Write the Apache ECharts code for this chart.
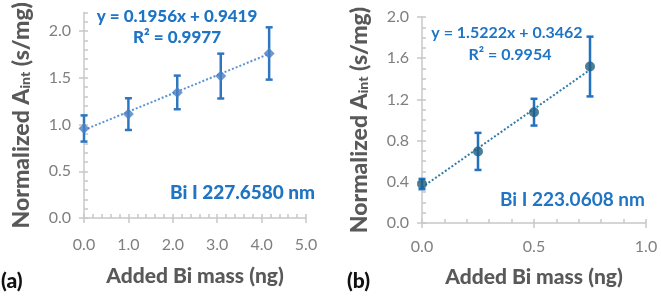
<!DOCTYPE html>
<html>
<head>
<meta charset="utf-8">
<script src="https://cdn.jsdelivr.net/npm/echarts@6/dist/echarts.min.js"></script>
<style>
  html, body { margin: 0; padding: 0; background: #fff; }
  #main { width: 661px; height: 298px; }
</style>
</head>
<body>
<div id="main"></div>
<script>
// panel (a) - Bi I 227.6580 nm
var massA = [0, 1.0, 2.1, 3.08, 4.17];
var signalA = [0.958, 1.112, 1.344, 1.519, 1.761];
var errA = [0.14, 0.17, 0.18, 0.24, 0.28];
var trendA = [[0, 0.942], [4.17, 1.757]];

// panel (b) - Bi I 223.0608 nm
var massB = [0, 0.25, 0.5, 0.75];
var signalB = [0.378, 0.695, 1.076, 1.519];
var errB = [0.05, 0.18, 0.13, 0.29];
var trendB = [[0, 0.346], [0.755, 1.495]];

var yTicksA = [0, 0.5, 1.0, 1.5, 2.0];
var xTicksA = [0, 1, 2, 3, 4, 5];
var yTicksB = [0, 0.4, 0.8, 1.2, 1.6, 2.0];
var xTicksB = [0, 0.5, 1.0];

var FONT = 'Lato, "Open Sans", sans-serif';
var GRID_LINE = '#c8c8c8';
var LABEL_GREY = '#7f7f7f';
var TITLE_GREY = '#595959';
var BLUE_TXT = '#1f74c4';

function pts(xs, ys) {
	return xs.map(function (x, i) { return [x, ys[i]]; });
}
function bars(xs, ys, es) {
	return xs.map(function (x, i) { return [x, ys[i] - es[i], ys[i] + es[i]]; });
}
function errBar(color) {
	return function (params, api) {
		var x = api.value(0);
		var lo = api.coord([x, api.value(1)]);
		var hi = api.coord([x, api.value(2)]);
		var cap = 3.5;
		var st = { stroke: color, lineWidth: 2.5 };
		return {
			type: 'group',
			children: [
				{ type: 'line', shape: { x1: lo[0], y1: lo[1], x2: hi[0], y2: hi[1] }, style: st },
				{ type: 'line', shape: { x1: hi[0] - cap, y1: hi[1], x2: hi[0] + cap, y2: hi[1] }, style: st },
				{ type: 'line', shape: { x1: lo[0] - cap, y1: lo[1], x2: lo[0] + cap, y2: lo[1] }, style: st }
			]
		};
	};
}

var fmt1 = function (v) { return (+v).toFixed(1); };
var yName = 'Normalized A{sub|int} (s/mg)';
function nameStyle(size) {
	return {
		color: TITLE_GREY, fontFamily: FONT, fontSize: size, fontWeight: 900,
		rich: {
			sub: { fontFamily: FONT, fontSize: 14, fontWeight: 900, color: TITLE_GREY, padding: [8, 0, 0, 0] }
		}
	};
}

// minor axis (line + inside ticks) and major axis (outside ticks + labels) stacked
function minorAxis(grid, min, max, step) {
	return {
		gridIndex: grid, type: 'value', min: min, max: max, interval: step,
		axisLine: { show: true, lineStyle: { color: GRID_LINE, width: 1.5 } },
		axisTick: { show: true, inside: true, length: 4, lineStyle: { color: GRID_LINE, width: 1.5 } },
		axisLabel: { show: false }, splitLine: { show: false }
	};
}
function majorAxis(grid, min, max, ticks, margin) {
	return {
		gridIndex: grid, type: 'value', min: min, max: max,
		axisLine: { show: false },
		axisTick: { show: true, inside: false, length: 5, customValues: ticks, lineStyle: { color: GRID_LINE, width: 1.5 } },
		axisLabel: { show: true, customValues: ticks, formatter: fmt1, color: LABEL_GREY, fontFamily: FONT, fontSize: 16, margin: margin },
		splitLine: { show: false }
	};
}

var xA1 = minorAxis(0, 0, 5, 0.2); xA1.position = 'bottom';
var xA2 = majorAxis(0, 0, 5, xTicksA, 19); xA2.position = 'bottom';
xA2.name = 'Added Bi mass (ng)'; xA2.nameLocation = 'middle'; xA2.nameGap = 48; xA2.nameTextStyle = nameStyle(21);
var xB1 = minorAxis(1, 0, 1, 0.1); xB1.position = 'bottom';
var xB2 = majorAxis(1, 0, 1, xTicksB, 16); xB2.position = 'bottom';
xB2.name = 'Added Bi mass (ng)'; xB2.nameLocation = 'middle'; xB2.nameGap = 44; xB2.nameTextStyle = nameStyle(21);

var yA1 = minorAxis(0, 0, 2.2, 0.1); yA1.position = 'left';
var yA2 = majorAxis(0, 0, 2.2, yTicksA, 13); yA2.position = 'left';
yA2.name = yName; yA2.nameLocation = 'middle'; yA2.nameGap = 51; yA2.nameTextStyle = nameStyle(23);
var yB1 = minorAxis(1, 0, 2.0, 0.1); yB1.position = 'left';
var yB2 = majorAxis(1, 0, 2.0, yTicksB, 13); yB2.position = 'left';
yB2.name = yName; yB2.nameLocation = 'middle'; yB2.nameGap = 51; yB2.nameTextStyle = nameStyle(23);

var option = {
	animation: false,
	backgroundColor: '#ffffff',
	textStyle: { fontFamily: FONT },
	grid: [
		{ left: 84, top: 10, width: 222, height: 208 },
		{ left: 422, top: 17, width: 224, height: 206 }
	],
	xAxis: [xA1, xA2, xB1, xB2],
	yAxis: [yA1, yA2, yB1, yB2],
	graphic: [
		{ type: 'text', left: 1, top: 271, style: { text: '(a)', fill: '#111', font: '900 21px ' + FONT } },
		{ type: 'text', left: 347, top: 271, style: { text: '(b)', fill: '#111', font: '900 21px ' + FONT } },
		{ type: 'text', x: 177, y: 17, style: { text: 'y = 0.1956x + 0.9419', fill: BLUE_TXT, font: '900 17px ' + FONT, align: 'center', verticalAlign: 'middle' } },
		{ type: 'text', x: 177, y: 38, style: { text: 'R² = 0.9977', fill: BLUE_TXT, font: '900 17px ' + FONT, align: 'center', verticalAlign: 'middle' } },
		{ type: 'text', x: 170, y: 193, style: { text: 'Bi I 227.6580 nm', fill: BLUE_TXT, font: '900 19px ' + FONT, align: 'left', verticalAlign: 'middle' } },
		{ type: 'text', x: 507, y: 33, style: { text: 'y = 1.5222x + 0.3462', fill: BLUE_TXT, font: 'bold 16px ' + FONT, align: 'center', verticalAlign: 'middle' } },
		{ type: 'text', x: 510, y: 55, style: { text: 'R² = 0.9954', fill: BLUE_TXT, font: 'bold 16px ' + FONT, align: 'center', verticalAlign: 'middle' } },
		{ type: 'text', x: 500, y: 200, style: { text: 'Bi I 223.0608 nm', fill: BLUE_TXT, font: 'bold 19px ' + FONT, align: 'left', verticalAlign: 'middle' } }
	],
	series: [
		{
			type: 'line', xAxisIndex: 0, yAxisIndex: 0, data: trendA, symbol: 'none', z: 2,
			lineStyle: { color: '#5b93d3', width: 2, type: [2, 2] }
		},
		{
			type: 'custom', xAxisIndex: 0, yAxisIndex: 0, data: bars(massA, signalA, errA), z: 3,
			renderItem: errBar('#2f76c0'), encode: { x: 0, y: [1, 2] }
		},
		{
			type: 'scatter', xAxisIndex: 0, yAxisIndex: 0, data: pts(massA, signalA), z: 4,
			symbol: 'diamond', symbolSize: 11, itemStyle: { color: '#4a80c4' }
		},
		{
			type: 'line', xAxisIndex: 2, yAxisIndex: 2, data: trendB, symbol: 'none', z: 2,
			lineStyle: { color: '#2f7bab', width: 2, type: [2, 2] }
		},
		{
			type: 'custom', xAxisIndex: 2, yAxisIndex: 2, data: bars(massB, signalB, errB), z: 3,
			renderItem: errBar('#2372c2'), encode: { x: 0, y: [1, 2] }
		},
		{
			type: 'scatter', xAxisIndex: 2, yAxisIndex: 2, data: pts(massB, signalB), z: 4,
			symbol: 'circle', symbolSize: 10, itemStyle: { color: '#1e5f80' }
		}
	]
};

var myChart = echarts.init(document.getElementById('main'));
myChart.setOption(option);
</script>
</body>
</html>
